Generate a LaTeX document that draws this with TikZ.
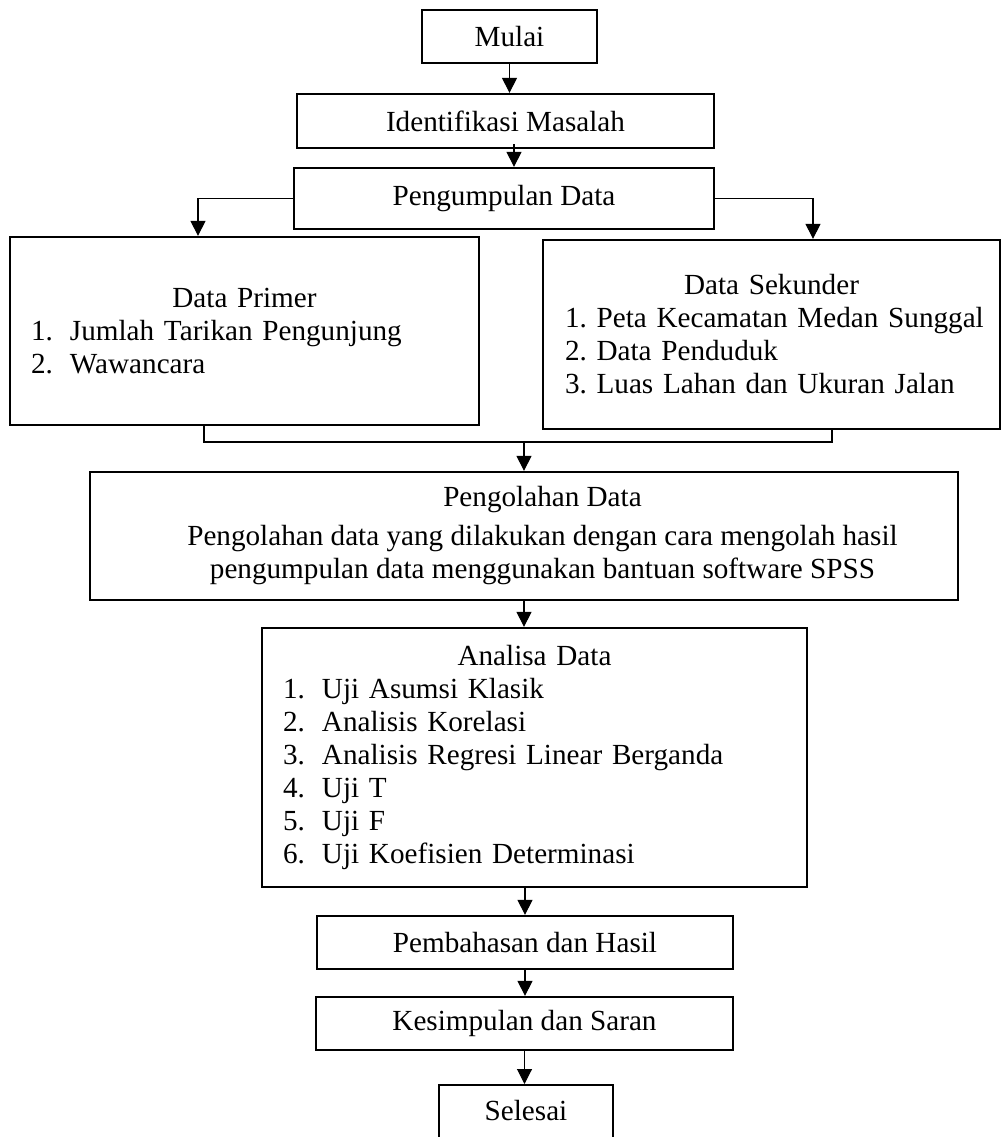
\documentclass[tikz,border=0pt]{standalone}
\usepackage{fontspec}
\setmainfont{Liberation Serif}
\usetikzlibrary{arrows.meta}
\frenchspacing
\newcommand{\nomor}[1]{\makebox[0.78cm][l]{#1}}
\tikzset{
  kotak/.style={draw, line width=1.3pt, inner ysep=0pt, inner xsep=0.2cm},
  panah/.style={line width=0.6pt, -{Triangle[width=0.3cm,length=0.3cm]}},
  garis/.style={line width=0.6pt}
}
\begin{document}
\begin{tikzpicture}[font=\fontsize{16.6}{18.8}\selectfont]
\useasboundingbox (0,0) rectangle (20.04,-22.74);

\node[kotak, minimum width=3.50cm, minimum height=1.06cm] (mulai) at (10.19,-0.73) {Mulai};
\node[kotak, minimum width=8.34cm, minimum height=1.08cm] (ident) at (10.11,-2.42) {Identifikasi Masalah};
\node[kotak, minimum width=8.40cm, minimum height=1.22cm] (kumpul) at (10.08,-3.97) {Pengumpulan Data};

\node[kotak, text width=8.54cm, inner xsep=0.42cm, minimum height=3.76cm] (primer) at (4.89,-6.62)
  {{\centering Data Primer\par}\nomor{1.}Jumlah Tarikan Pengunjung\\ \nomor{2.}Wawancara};
\node[kotak, text width=8.26cm, inner xsep=0.44cm, minimum height=3.78cm] (sekunder) at (15.43,-6.69)
  {{\centering Data Sekunder\par}\mbox{1. Peta Kecamatan Medan Sunggal}\\ 2. Data Penduduk\\ \mbox{3. Luas Lahan dan Ukuran Jalan}};

\node[kotak, minimum width=17.36cm, minimum height=2.56cm] (olah) at (10.48,-10.72)
  {\hspace*{0.74cm}\begin{tabular}{@{}c@{}}Pengolahan Data\\[0.12cm] Pengolahan data yang dilakukan dengan cara mengolah hasil\\ pengumpulan data menggunakan bantuan software SPSS\end{tabular}};

\node[kotak, text width=10.06cm, inner xsep=0.42cm, minimum height=5.18cm] (analisa) at (10.69,-15.15)
  {{\centering Analisa Data\par}\nomor{1.}Uji Asumsi Klasik\\ \nomor{2.}Analisis Korelasi\\ \nomor{3.}Analisis Regresi Linear Berganda\\ \nomor{4.}Uji T\\ \nomor{5.}Uji F\\ \nomor{6.}Uji Koefisien Determinasi};

\node[kotak, minimum width=8.32cm, minimum height=1.06cm] (bahas) at (10.50,-18.85) {Pembahasan dan Hasil};
\node[kotak, minimum width=8.34cm, minimum height=1.06cm] (simpul) at (10.49,-20.47) {Kesimpulan dan Saran};
\node[kotak, minimum width=3.48cm, minimum height=1.30cm, anchor=north] (selesai) at (10.52,-21.68) {};
\node at (10.52,-22.21) {Selesai};

\coordinate (gabung) at (10.48,-8.84);

\draw[panah] (mulai.south) -- (mulai.south |- ident.north);
\draw[panah] ([xshift=0.17cm,yshift=0.1cm]ident.south) -- ([xshift=0.2cm]kumpul.north);
\draw[panah] (kumpul.west) -| ([xshift=-0.93cm]primer.north);
\draw[panah] (kumpul.east) -| ([xshift=0.83cm]sekunder.north);
\draw[garis] ([xshift=-0.81cm]primer.south) |- (gabung) -| ([xshift=1.21cm]sekunder.south);
\draw[panah] (gabung) -- (olah.north);
\draw[panah] (olah.south) -- (olah.south |- analisa.north);
\draw[panah] (bahas.north |- analisa.south) -- (bahas.north);
\draw[panah] (bahas.south) -- (bahas.south |- simpul.north);
\draw[panah] (simpul.south) -- (simpul.south |- selesai.north);

\end{tikzpicture}
\end{document}
